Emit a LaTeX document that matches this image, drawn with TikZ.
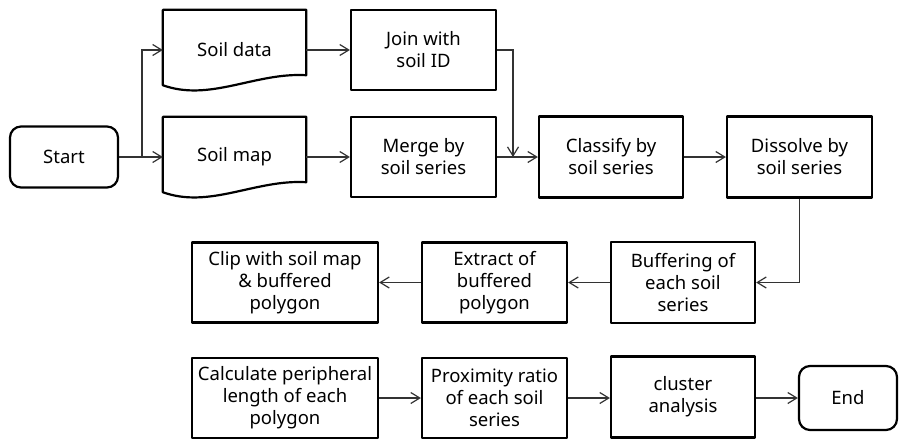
\documentclass[tikz,border=0pt]{standalone}
\usepackage{fontspec}
\setmainfont{Noto Sans}
\usetikzlibrary{arrows.meta}
\begin{document}
\begin{tikzpicture}[x=1pt,y=-1pt,
  boxline/.style={draw=black,line width=2.2pt,line join=round},
  box/.style={boxline,inner sep=0pt,align=center,text=black,
    font=\fontsize{18.5}{22}\selectfont},
  docbox/.style={inner sep=0pt,align=center,text=black,
    font=\fontsize{18.5}{22}\selectfont},
  term/.style={box,rounded corners=11pt},
  conn/.style={draw=black!80,line width=1.2pt,
    -{Straight Barb[length=9pt,width=11pt,line width=1.2pt]}}
]
\useasboundingbox (0,0) rectangle (899,439);

% top part
\node[term,minimum width=108pt,minimum height=61pt] (start) at (64,157) {Start};
\node[docbox,minimum width=143pt,minimum height=80pt] (sd) at (234.5,50) {\raisebox{2pt}{Soil data}};
\node[docbox,minimum width=143pt,minimum height=80pt] (sm) at (234.5,157) {\raisebox{2pt}{Soil map}};
\foreach \n in {sd,sm}{
  \draw[boxline] (\n.north west) -- (\n.north east) -- ([yshift=15pt]\n.south east)
    .. controls ([xshift=-51pt,yshift=18pt]\n.south east) and ([xshift=47pt,yshift=-12pt]\n.south west)
    .. ([yshift=5pt]\n.south west) -- cycle;
}
\node[box,minimum width=145pt,minimum height=80pt] (join) at (423.5,50) {Join with\\soil ID};
\node[box,minimum width=145pt,minimum height=80pt] (merge) at (423.5,157) {Merge by\\soil series};
\node[box,minimum width=144pt,minimum height=81pt] (classify) at (611,157) {Classify by\\soil series};
\node[box,minimum width=145pt,minimum height=81pt] (dissolve) at (799.5,157) {Dissolve by\\soil series};

% middle row
\node[box,minimum width=144pt,minimum height=81pt] (buffer) at (683,282.5) {Buffering of\\each soil\\series};
\node[box,minimum width=145pt,minimum height=80pt] (extract) at (494.5,282.5) {Extract of\\buffered\\polygon};
\node[box,minimum width=186pt,minimum height=80pt] (clip) at (285,282.5) {Clip with soil map\\\& buffered\\polygon};

% bottom row
\node[box,minimum width=186pt,minimum height=80pt] (calc) at (285,398) {Calculate peripheral\\length of each\\polygon};
\node[box,minimum width=145pt,minimum height=80pt] (prox) at (494.5,398) {Proximity ratio\\of each soil\\series};
\node[box,minimum width=144pt,minimum height=81pt] (cluster) at (683,397) {cluster\\analysis};
\node[term,minimum width=98pt,minimum height=64pt] (end) at (848,398) {End};

% connectors
\coordinate (j1) at (142,157);
\coordinate (j2) at (513,157);
\draw[conn] (start.east) -- (j1) |- (sd.west);
\draw[conn] (j1) -- (sm.west);
\draw[conn] (sd.east) -- (join.west);
\draw[conn] (sm.east) -- (merge.west);
\draw[conn] (join.east) -| (j2);
\draw[conn] (merge.east) -- (classify.west);
\draw[conn] (classify.east) -- (dissolve.west);
\draw[conn] (dissolve.south) |- (buffer.east);
\draw[conn] (buffer.west) -- (extract.east);
\draw[conn] (extract.west) -- (clip.east);
\draw[conn] (calc.east) -- (calc.east -| prox.west);
\draw[conn] (prox.east) -- (prox.east -| cluster.west);
\draw[conn] (cluster.east |- end.west) -- (end.west);
\end{tikzpicture}
\end{document}
